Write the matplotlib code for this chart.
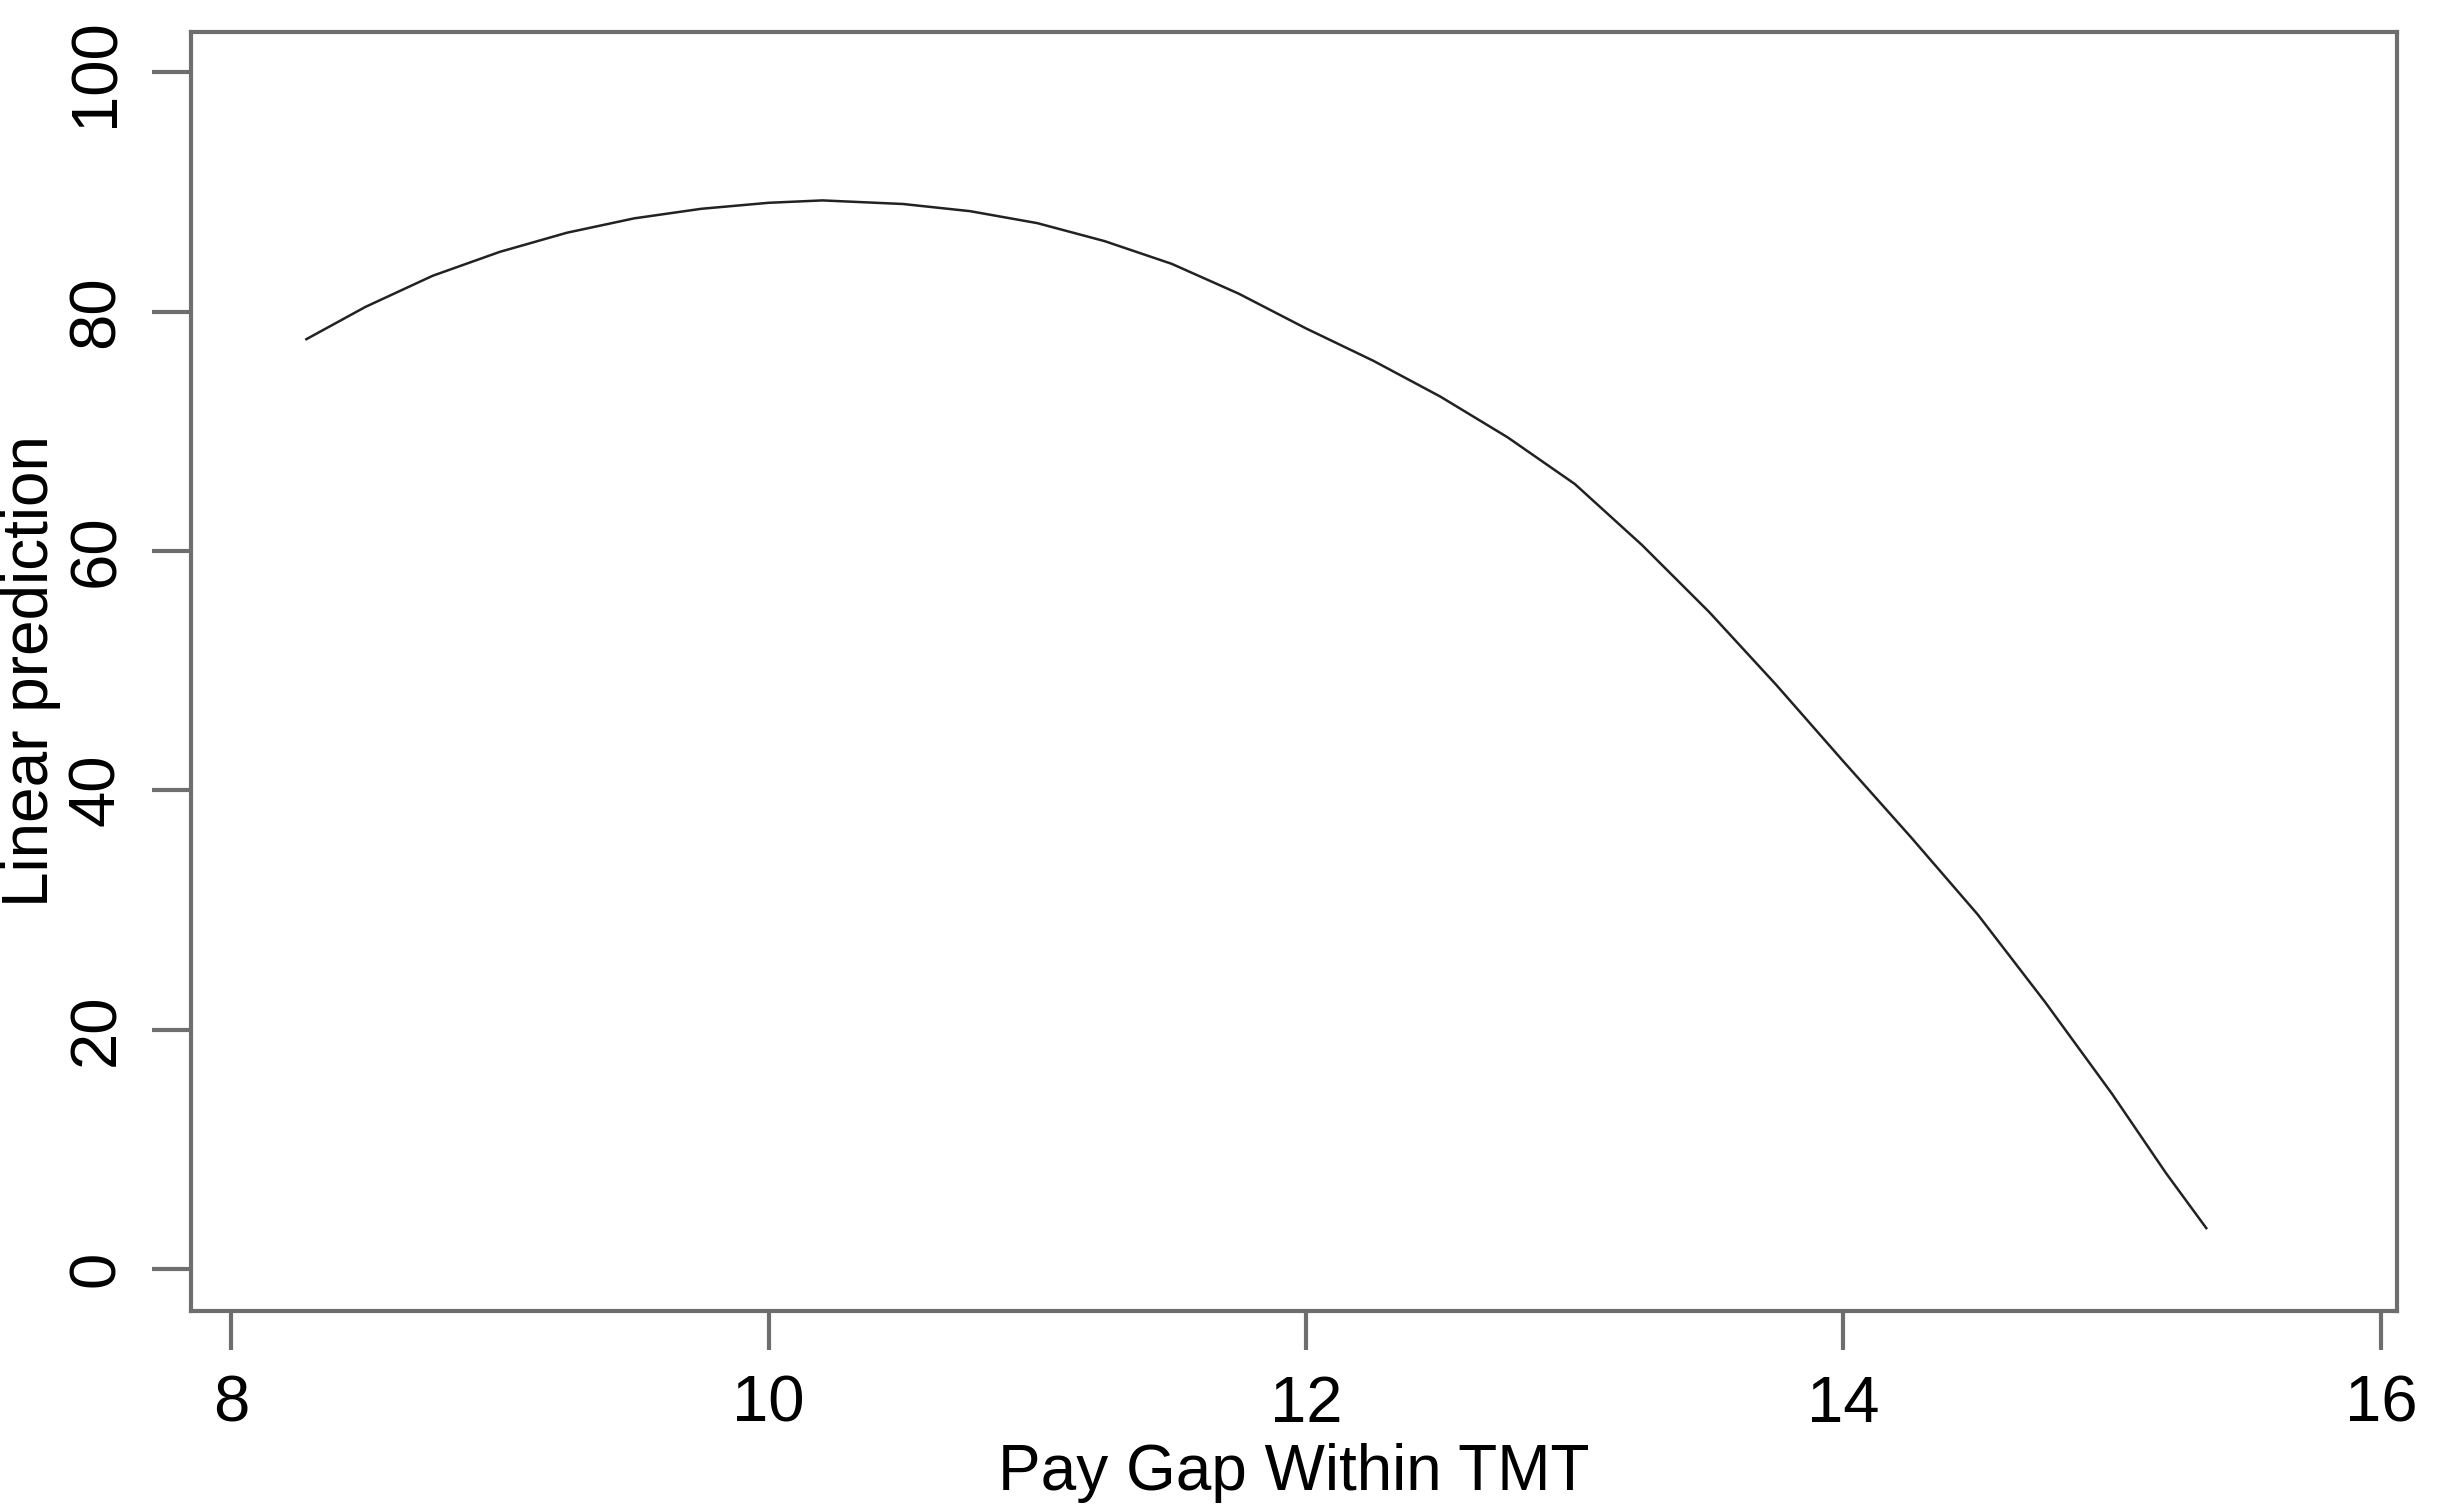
import matplotlib
matplotlib.use("Agg")
from matplotlib import pyplot as plt

# values
pay_gap = [8.28, 8.5, 8.75, 9.0, 9.25, 9.5, 9.75, 10.0, 10.2, 10.5, 10.75, 11.0, 11.25, 11.5, 11.75,
           12.0, 12.25, 12.5, 12.75, 13.0, 13.25, 13.5, 13.75, 14.0, 14.25, 14.5, 14.75, 15.0, 15.2, 15.35]
prediction = [77.7, 80.4, 83.0, 85.0, 86.6, 87.8, 88.6, 89.1, 89.3, 89.0, 88.4, 87.4, 85.9, 84.0, 81.5,
              78.6, 75.9, 72.9, 69.5, 65.6, 60.5, 54.9, 48.8, 42.4, 36.1, 29.6, 22.3, 14.6, 8.0, 3.4]

x_ticks = [8, 10, 12, 14, 16]
y_ticks = [0, 20, 40, 60, 80, 100]

plt.rcParams['font.family'] = ['Liberation Sans', 'DejaVu Sans']

fig = plt.figure(figsize=(24.46, 15.1), dpi=100)
ax = fig.add_axes([0.078, 0.132, 0.902, 0.847])
ax.plot(pay_gap, prediction, color='#222222', linewidth=1.8)

ax.set_xlim(7.85, 16.06)
ax.set_ylim(-3.5, 103.4)
ax.set_xticks(x_ticks)
ax.set_yticks(y_ticks)
for s in ax.spines.values():
    s.set_color('#6e6e6e')
    s.set_linewidth(3)
ax.tick_params(axis='both', direction='out', length=28, width=3, color='#6e6e6e',
               labelsize=47, pad=18)
for lab in ax.get_yticklabels():
    lab.set_rotation(90)
    lab.set_va('center')
ax.set_xlabel("Pay Gap Within TMT", fontsize=46, labelpad=6)
ax.set_ylabel("Linear prediction", fontsize=46, labelpad=4)

plt.savefig("out.png", dpi=100)
